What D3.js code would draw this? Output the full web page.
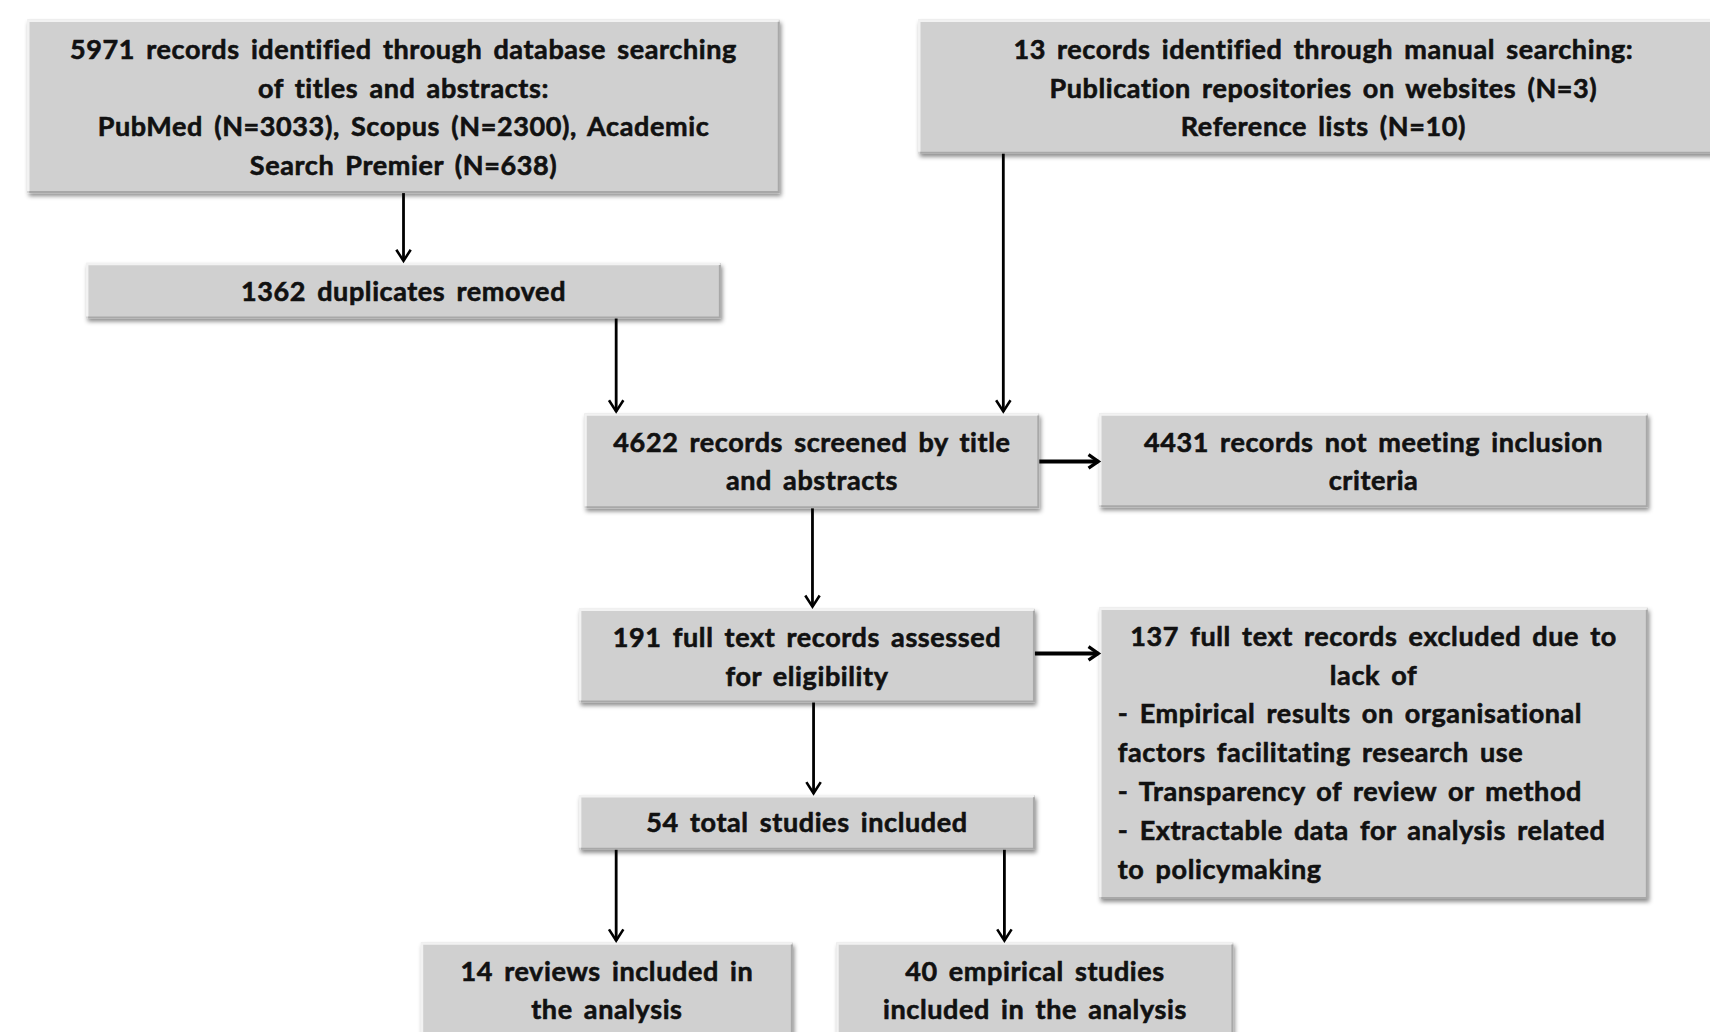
<!DOCTYPE html>
<html>
<head>
<meta charset="utf-8">
<script src="https://cdn.jsdelivr.net/npm/d3@7"></script>
<style>
  body { margin: 0; background: #fff; }
  svg { display: block; }
</style>
</head>
<body>
<div id="grafico"></div>
<script>
// 1) texts of each box ------------------------------------------
const boxLabels = [
  ["5971 records identified through database searching", "of titles and abstracts:", "PubMed (N=3033), Scopus (N=2300), Academic", "Search Premier (N=638)"],
  ["1362 duplicates removed"],
  ["13 records identified through manual searching:", "Publication repositories on websites (N=3)", "Reference lists (N=10)"],
  ["4622 records screened by title", "and abstracts"],
  ["4431 records not meeting inclusion", "criteria"],
  ["191 full text records assessed", "for eligibility"],
  ["137 full text records excluded due to", "lack of", "- Empirical results on organisational", "factors facilitating research use", "- Transparency of review or method", "- Extractable data for analysis related", "to policymaking"],
  ["54 total studies included"],
  ["14 reviews included in", "the analysis"],
  ["40 empirical studies", "included in the analysis"]
];
// number of centred lines per box (rest is left aligned)
const centredLines = [4, 1, 3, 2, 2, 2, 2, 1, 2, 2];

// links between boxes: [from, to, direction]
const links = [[0, 1, "v"], [1, 3, "v"], [2, 3, "v"], [3, 4, "h"], [3, 5, "v"], [5, 6, "h"], [5, 7, "v"], [7, 8, "v"], [7, 9, "v"]];

// 2) layout (reference units) -------------------------------------
const boxLayout = [
  [25, 18, 715, 177], [79, 241, 661, 292], [842, 18, 1585, 141],
  [536, 379, 953, 466], [1008, 379, 1511, 465], [531, 558, 949, 644],
  [1008, 557, 1511, 824], [531, 729, 949, 779], [386, 864, 727, 962],
  [767, 864, 1131, 962]
];
const firstLineY = [45, 267, 45, 405, 405, 584, 583, 754, 890, 890];
const linkPos = [370, 565, 920, 423, 745, 599, 746, 565, 921];
const lineStep = 35.6;

const largura = 1710, altura = 1032;
const x = d3.scaleLinear().domain([0, 1568]).range([0, largura]);
const y = d3.scaleLinear().domain([0, 946]).range([0, altura]);

const svg = d3.select("#grafico").append("svg")
  .attr("width", largura).attr("height", altura);

const defs = svg.append("defs");
const sombra = defs.append("filter").attr("id", "sombra")
  .attr("x", "-5%").attr("y", "-10%").attr("width", "115%").attr("height", "130%");
sombra.append("feDropShadow").attr("dx", 1.5).attr("dy", 3).attr("stdDeviation", 2)
  .attr("flood-color", "#000").attr("flood-opacity", 0.45);

defs.append("marker").attr("id", "seta").attr("viewBox", "0 0 10 10")
  .attr("refX", 9).attr("refY", 5).attr("markerWidth", 16).attr("markerHeight", 16)
  .attr("markerUnits", "userSpaceOnUse").attr("orient", "auto")
  .attr("overflow", "visible")
  .append("path").attr("d", "M2,0.5 L9,5 L2,9.5")
  .attr("fill", "none").attr("stroke", "#000").attr("stroke-width", 1.6);

defs.append("marker").attr("id", "setaH").attr("viewBox", "0 0 10 10")
  .attr("refX", 9).attr("refY", 5).attr("markerWidth", 15).attr("markerHeight", 15)
  .attr("markerUnits", "userSpaceOnUse").attr("orient", "auto")
  .attr("overflow", "visible")
  .append("path").attr("d", "M2.5,0.5 L9,5 L2.5,9.5")
  .attr("fill", "none").attr("stroke", "#000").attr("stroke-width", 2.2);

// 3) boxes -----------------------------------------------------
const caixas = svg.append("g").selectAll("g")
  .data(boxLabels)
  .join("g");

caixas.append("rect")
  .attr("x", (d, i) => x(boxLayout[i][0]))
  .attr("y", (d, i) => y(boxLayout[i][1]))
  .attr("width", (d, i) => x(boxLayout[i][2]) - x(boxLayout[i][0]))
  .attr("height", (d, i) => y(boxLayout[i][3]) - y(boxLayout[i][1]))
  .attr("fill", "#d0d0d0")
  .attr("filter", "url(#sombra)");

// bevel highlights
caixas.append("path")
  .attr("d", (d, i) => {
    const [x0, y0, x1, y1] = boxLayout[i].map((v, k) => k % 2 ? y(v) : x(v));
    return `M${x0 + 1},${y1 - 2} L${x0 + 1},${y0 + 1} L${x1 - 1},${y0 + 1}`;
  })
  .attr("fill", "none").attr("stroke", "#f2f2f2").attr("stroke-width", 2.5);
caixas.append("path")
  .attr("d", (d, i) => {
    const [x0, y0, x1, y1] = boxLayout[i].map((v, k) => k % 2 ? y(v) : x(v));
    return `M${x1 - 1},${y0 + 2} L${x1 - 1},${y1 - 1} L${x0 + 2},${y1 - 1}`;
  })
  .attr("fill", "none").attr("stroke", "#a8a8a8").attr("stroke-width", 2);

caixas.each(function (d, i) {
  const g = d3.select(this);
  const [x0, , x1] = boxLayout[i];
  const cx = x((x0 + x1) / 2);
  d.forEach((linha, j) => {
    const centred = j < centredLines[i];
    g.append("text")
      .attr("x", centred ? cx : x(x0 + 17))
      .attr("y", y(firstLineY[i] + j * lineStep))
      .attr("dy", "0.36em")
      .attr("text-anchor", centred ? "middle" : "start")
      .attr("font-family", "Lato, 'Open Sans', sans-serif")
      .attr("font-weight", "bold")
      .attr("font-size", "27px")
      .attr("letter-spacing", "0.6px")
      .attr("word-spacing", "4px")
      .attr("fill", "#111")
      .attr("stroke", "#111")
      .attr("stroke-width", 0.6)
      .text(linha);
  });
});

// 4) arrows ----------------------------------------------------
svg.append("g").selectAll("line")
  .data(links)
  .join("line")
    .attr("x1", (d, i) => d[2] === "v" ? x(linkPos[i]) : x(boxLayout[d[0]][2]))
    .attr("x2", (d, i) => d[2] === "v" ? x(linkPos[i]) : x(boxLayout[d[1]][0]) - 1)
    .attr("y1", (d, i) => d[2] === "v" ? y(boxLayout[d[0]][3]) : y(linkPos[i]))
    .attr("y2", (d, i) => d[2] === "v" ? y(boxLayout[d[1]][1]) - 2 : y(linkPos[i]))
    .attr("stroke", "#000")
    .attr("stroke-width", d => d[2] === "v" ? 2.8 : 4)
    .attr("marker-end", d => d[2] === "v" ? "url(#seta)" : "url(#setaH)");
</script>
</body>
</html>
